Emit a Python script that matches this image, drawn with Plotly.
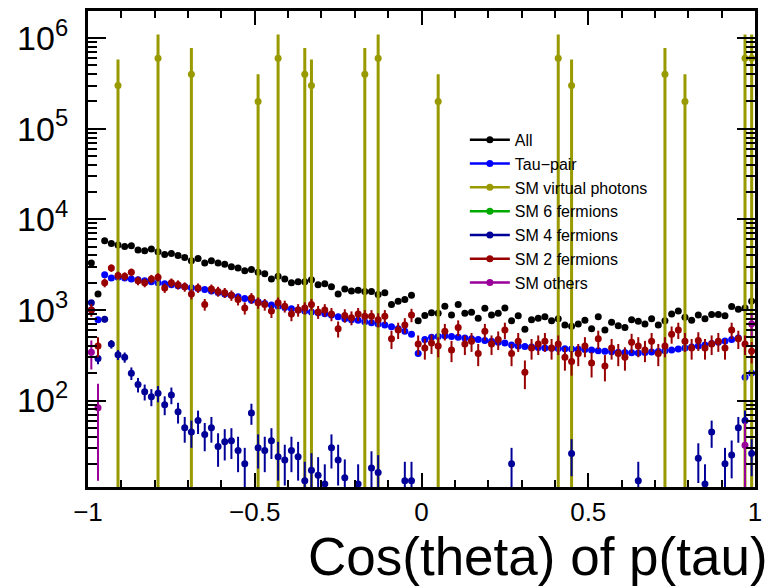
import numpy as np
import plotly.graph_objects as go

# 100 bins of cos(theta) between -1 and 1
bin_edges_lo = -1.0
bin_width = 0.02
n_bins = 100
centers = [round(bin_edges_lo + bin_width * (i + 0.5), 3) for i in range(n_bins)]

all_vals = [3300, 1500, 5800, 5400, 5200, 5000, 5100, 4600, 4500, 4700,
            4400, 4100, 4200, 4000, 3800, 3500, 3700, 3300, 3500, 3300,
            3200, 3000, 2900, 2700, 2800, 2600, 2500, 2200, 2350, 2200,
            2000, 2050, 2050, 2150, 1900, 1950, 1800, 1500, 1700, 1620,
            1650, 1600, 1600, 1480, 1550, 1150, 1250, 1300, 1450, 760,
            870, 930, 920, 1100, 880, 1150, 920, 940, 810, 1040,
            880, 920, 1050, 760, 860, 610, 780, 810, 840, 760,
            800, 680, 660, 700, 770, 620, 840, 600, 730, 670,
            640, 780, 750, 700, 800, 680, 760, 900, 970, 830,
            770, 880, 800, 890, 890, 860, 1090, 1020, 1050, 1250]

taupair_vals = [1000, 780, 2450, 2250, 2300, 2250, 2200, 2150, 2100, 2050,
                2000, 1950, 1900, 1850, 1800, 1760, 1720, 1680, 1620, 1560,
                1500, 1450, 1400, 1340, 1280, 1230, 1180, 1130, 1100, 1060,
                1030, 1000, 970, 950, 930, 910, 880, 840, 800, 780,
                770, 740, 720, 700, 680, 650, 620, 580, 540, 330,
                470, 500, 510, 520, 510, 500, 490, 480, 470, 460,
                450, 440, 430, 410, 400, 395, 390, 385, 380, 378,
                375, 372, 370, 368, 365, 360, 355, 350, 345, 340,
                338, 336, 335, 338, 342, 348, 355, 362, 370, 380,
                390, 400, 410, 425, 440, 455, 470, 490, 180, 200]

sm2f_vals = [1000, 400, 2000, 2900, 2400, 2350, 2600, 2100, 2000, 2200,
             2300, 1750, 2000, 1900, 1800, 1500, 1750, 1150, 1700, 1600,
             1550, 1450, 1300, 1050, 1350, 1200, 1150, 970, 1200, 1100,
             900, 1000, 1050, 1150, 950, 1000, 900, 620, 870, 820,
             900, 850, 850, 780, 850, 480, 600, 680, 880, 420,
             380, 430, 400, 580, 360, 640, 420, 450, 330, 580,
             420, 470, 600, 330, 450, 205, 380, 420, 450, 380,
             420, 300, 270, 330, 400, 260, 480, 240, 380, 330,
             300, 440, 400, 360, 450, 330, 400, 540, 600, 450,
             380, 460, 380, 420, 450, 380, 600, 480, 420, 350]

sm4f_vals = [1200, 290, 790, 420, 320, 300, 200, 150, 125, 110,
             120, 90, 115, 75, 50, 45, 60, 42, 50, 31,
             35, 36, 28, 20, 73, 30, 28, 36, 24, 22,
             28, 24, 13, 17, 15, 12, 30, 22, 14, None,
             12, None, 18, 16, None, None, None, 13, 13, None,
             None, None, None, None, None, None, None, None, None, None,
             None, None, None, 20, None, None, None, None, None, None,
             None, None, 26, None, None, None, None, None, None, None,
             None, None, 13, None, None, None, None, None, None, None,
             None, 23, 12, 45, None, 20, 25, 50, 60, 26]

# SM virtual photons: (bin index, value, upper error)
vph_bins = [4, 10, 15, 25, 28, 32, 33, 41, 43, 52, 70, 72, 86, 89, 98, 99]
vph_vals = [3e5, 6e5, 4e5, 2e5, 6e5, 4e5, 3e5, 4e5, 6e5, 2e5, 6e5, 3e5, 4e5, 2e5, 6e5, 6e5]
vph_err_up = [2.8e5, 5e5, 3.8e5, 2e5, 5e5, 3.8e5, 2.8e5, 3.8e5, 5e5, 2e5, 5e5, 2.8e5, 3.8e5, 2e5, 5e5, 5e5]

# SM others
oth_bins = [0, 1, 98, 99]
oth_vals = [340, 83, 32, 700]
oth_err = [120, 70, 25, 200]

w_2f = 25.0   # effective event weight for error bars
w_4f = 5.0

C_ALL = "#000000"
C_TAU = "#0000ff"
C_VPH = "#999900"
C_6F = "#00aa00"
C_4F = "#000099"
C_2F = "#990000"
C_OTH = "#990099"

FONT = "Liberation Sans, Arial, Helvetica, sans-serif"

fig = go.Figure()

def sqrt_err(vals, w):
    return [None if v is None else float(np.sqrt(v * w)) for v in vals]

# data traces
fig.add_trace(go.Scatter(x=centers, y=all_vals, mode="markers",
                         marker=dict(color=C_ALL, size=7), showlegend=False))
fig.add_trace(go.Scatter(x=centers, y=taupair_vals, mode="markers",
                         marker=dict(color=C_TAU, size=7), showlegend=False))
vx = [centers[i] for i in vph_bins]
fig.add_trace(go.Scatter(x=vx, y=vph_vals, mode="markers",
                         marker=dict(color=C_VPH, size=7),
                         error_y=dict(type="data", symmetric=False, array=vph_err_up,
                                      arrayminus=[v - 1 for v in vph_vals],
                                      color=C_VPH, thickness=3, width=0),
                         showlegend=False))
fig.add_trace(go.Scatter(x=centers, y=sm4f_vals, mode="markers",
                         marker=dict(color=C_4F, size=7),
                         error_y=dict(type="data", array=sqrt_err(sm4f_vals, w_4f),
                                      color=C_4F, thickness=2, width=0),
                         showlegend=False))
fig.add_trace(go.Scatter(x=centers, y=sm2f_vals, mode="markers",
                         marker=dict(color=C_2F, size=7),
                         error_y=dict(type="data", array=sqrt_err(sm2f_vals, w_2f),
                                      color=C_2F, thickness=2, width=0),
                         showlegend=False))
ox = [centers[i] for i in oth_bins]
fig.add_trace(go.Scatter(x=ox, y=oth_vals, mode="markers",
                         marker=dict(color=C_OTH, size=7),
                         error_y=dict(type="data", array=oth_err,
                                      color=C_OTH, thickness=2, width=0),
                         showlegend=False))

# legend entries
legend_items = [("All", C_ALL), ("Tau\u2212pair", C_TAU), ("SM virtual photons", C_VPH),
                ("SM 6 fermions", C_6F), ("SM 4 fermions", C_4F),
                ("SM 2 fermions", C_2F), ("SM others", C_OTH)]
for name, col in legend_items:
    fig.add_trace(go.Scatter(x=[None], y=[None], mode="lines+markers", name=name,
                             line=dict(color=col, width=2.5),
                             marker=dict(color=col, size=7)))

dec_vals = [1e2, 1e3, 1e4, 1e5, 1e6]
dec_text = ["10<sup>2</sup>", "10<sup>3</sup>", "10<sup>4</sup>", "10<sup>5</sup>", "10<sup>6</sup>"]
minor_vals = [m * 10 ** e for e in range(1, 7) for m in range(2, 10)]

fig.update_layout(
    width=783, height=587,
    margin=dict(l=88, r=28, t=8, b=100),
    paper_bgcolor="white", plot_bgcolor="white",
    font=dict(family=FONT, color="black"),
    legend=dict(x=0.565, y=0.765, xanchor="left", yanchor="top",
                bgcolor="rgba(0,0,0,0)", font=dict(size=16, family=FONT),
                tracegroupgap=0, itemwidth=40),
    xaxis=dict(range=[-1, 1], showgrid=False, zeroline=False,
               showline=True, linecolor="black", linewidth=3, mirror="ticks",
               ticks="inside", ticklen=14, tickwidth=2, tickcolor="black",
               tickvals=[-1, -0.5, 0, 0.5, 1], ticktext=["\u22121", "\u22120.5", "0", "0.5", "1"],
               tickfont=dict(size=26, family=FONT),
               minor=dict(ticks="inside", ticklen=7, tickwidth=2, tickcolor="black",
                          tickvals=[round(-1 + 0.1 * k, 2) for k in range(21)], showgrid=False)),
    yaxis=dict(type="log", range=[1.045, 6.3], showgrid=False, zeroline=False,
               showline=True, linecolor="black", linewidth=3, mirror="ticks",
               ticks="inside", ticklen=18, tickwidth=2, tickcolor="black",
               tickvals=dec_vals, ticktext=dec_text, ticklabelstandoff=10,
               tickfont=dict(size=34, family=FONT),
               minor=dict(ticks="inside", ticklen=9, tickwidth=2, tickcolor="black",
                          tickvals=minor_vals, showgrid=False)),
    annotations=[dict(text="Cos(theta) of p(tau)", xref="paper", yref="paper",
                      x=1.022, y=-0.146, xanchor="right", yanchor="middle",
                      showarrow=False, font=dict(size=53, family=FONT, color="black"))],
)

fig.write_html("out.html")
